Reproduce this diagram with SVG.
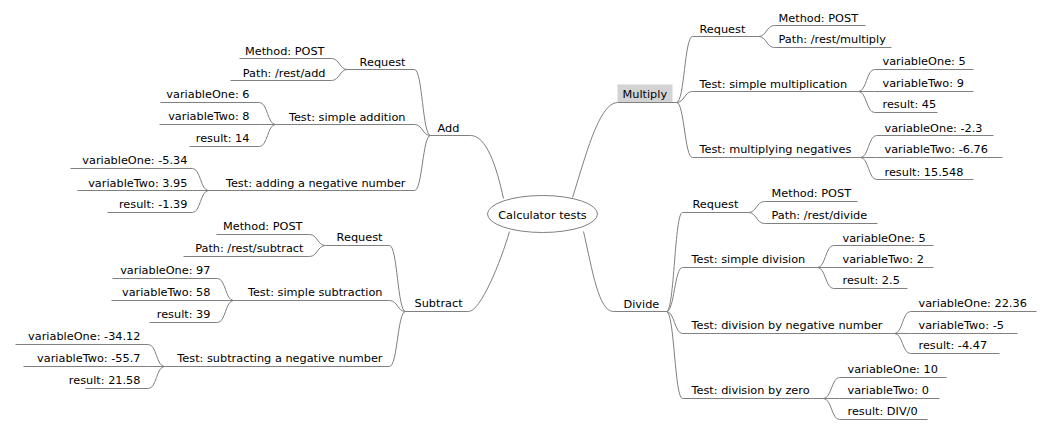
<svg xmlns="http://www.w3.org/2000/svg" width="1058" height="437" viewBox="0 0 1058 437">
<style>
text{font-family:"DejaVu Sans","Liberation Sans",sans-serif;font-size:11.3px;fill:#000}
.e{text-anchor:end}
.m{text-anchor:middle}
line,path,ellipse{stroke:#808080;stroke-width:1;fill:none}
#root ellipse{fill:#fff}
.hl{fill:#d3d3d3;stroke:none}
</style>
<rect width="1058" height="437" fill="#fff"/>
<g transform="translate(0.5,0.5)">
<g id="connectors">
<path d="M470 135 C486 135,496 166,503 198"/>
<path d="M468 311 C480 311,500 262,509 231"/>
<path d="M572 197 C584 160,598 102,617 102"/>
<path d="M583 231 C592 270,598 311,613 311"/>
<path d="M414 69 C422 69,422 135,430 135"/>
<path d="M414 124 C422 124,422 135,430 135"/>
<path d="M414 190 C422 190,422 135,430 135"/>
<path d="M331 58 C339 58,339 69,347 69"/>
<path d="M331 80 C339 80,339 69,347 69"/>
<path d="M259 102 C267 102,267 124,275 124"/>
<path d="M259 124 L275 124"/>
<path d="M259 146 C267 146,267 124,275 124"/>
<path d="M192 168 C200 168,200 190,208 190"/>
<path d="M192 190 L208 190"/>
<path d="M192 212 C200 212,200 190,208 190"/>
<path d="M389 245 C397 245,397 311,405 311"/>
<path d="M389 300 C397 300,397 311,405 311"/>
<path d="M389 366 C397 366,397 311,405 311"/>
<path d="M309 234 C317 234,317 245,325 245"/>
<path d="M309 256 C317 256,317 245,325 245"/>
<path d="M217 278 C225 278,225 300,233 300"/>
<path d="M217 300 L233 300"/>
<path d="M217 322 C225 322,225 300,233 300"/>
<path d="M148 344 C156 344,156 366,164 366"/>
<path d="M148 366 L164 366"/>
<path d="M148 388 C156 388,156 366,164 366"/>
<path d="M676 102 C684 102,684 36,692 36"/>
<path d="M676 102 C684 102,684 91,692 91"/>
<path d="M676 102 C684 102,684 157,692 157"/>
<path d="M758 36 C766 36,766 25,774 25"/>
<path d="M758 36 C766 36,766 47,774 47"/>
<path d="M858 91 C866 91,866 69,874 69"/>
<path d="M858 91 L874 91"/>
<path d="M858 91 C866 91,866 112,874 112"/>
<path d="M860 157 C868 157,868 135,876 135"/>
<path d="M860 157 L876 157"/>
<path d="M860 157 C868 157,868 179,876 179"/>
<path d="M666 311 C674 311,674 212,682 212"/>
<path d="M666 311 C674 311,674 267,682 267"/>
<path d="M666 311 C674 311,674 333,682 333"/>
<path d="M666 311 C674 311,674 398,682 398"/>
<path d="M748 212 C756 212,756 201,764 201"/>
<path d="M748 212 C756 212,756 223,764 223"/>
<path d="M817 267 C825 267,825 245,833 245"/>
<path d="M817 267 L833 267"/>
<path d="M817 267 C825 267,825 288,833 288"/>
<path d="M894 333 C902 333,902 311,910 311"/>
<path d="M894 333 L910 333"/>
<path d="M894 333 C902 333,902 353,910 353"/>
<path d="M823 398 C831 398,831 377,839 377"/>
<path d="M823 398 L839 398"/>
<path d="M823 398 C831 398,831 419,839 419"/>
</g>
<g id="root"><ellipse cx="542" cy="213.5" rx="55" ry="18.5"/><text class="m" x="542" y="218">Calculator tests</text></g>

<g id="add"><line x1="430" y1="135" x2="470" y2="135"/><text x="437" y="131">Add</text></g>
<g id="add-request"><line x1="347" y1="69" x2="414" y2="69"/><text class="e" x="405" y="65">Request</text></g>
<g id="add-method"><line x1="239" y1="58" x2="331" y2="58"/><text class="e" x="324" y="54">Method: POST</text></g>
<g id="add-path"><line x1="230" y1="80" x2="331" y2="80"/><text class="e" x="325" y="76">Path: /rest/add</text></g>
<g id="add-test1"><line x1="275" y1="124" x2="414" y2="124"/><text class="e" x="405" y="120">Test: simple addition</text></g>
<g id="add-t1-v1"><line x1="160" y1="102" x2="259" y2="102"/><text class="e" x="249" y="97">variableOne: 6</text></g>
<g id="add-t1-v2"><line x1="159" y1="124" x2="259" y2="124"/><text class="e" x="249" y="119">variableTwo: 8</text></g>
<g id="add-t1-r"><line x1="189" y1="146" x2="259" y2="146"/><text class="e" x="249" y="141">result: 14</text></g>
<g id="add-test2"><line x1="208" y1="190" x2="414" y2="190"/><text class="e" x="405" y="186">Test: adding a negative number</text></g>
<g id="add-t2-v1"><line x1="70" y1="168" x2="192" y2="168"/><text class="e" x="187" y="163">variableOne: -5.34</text></g>
<g id="add-t2-v2"><line x1="77" y1="190" x2="192" y2="190"/><text class="e" x="187" y="186">variableTwo: 3.95</text></g>
<g id="add-t2-r"><line x1="107" y1="212" x2="192" y2="212"/><text class="e" x="187" y="207">result: -1.39</text></g>

<g id="subtract"><line x1="405" y1="311" x2="468" y2="311"/><text x="414" y="306">Subtract</text></g>
<g id="sub-request"><line x1="325" y1="245" x2="389" y2="245"/><text class="e" x="382" y="240">Request</text></g>
<g id="sub-method"><line x1="216" y1="234" x2="309" y2="234"/><text class="e" x="302" y="229">Method: POST</text></g>
<g id="sub-path"><line x1="183" y1="256" x2="309" y2="256"/><text class="e" x="303" y="251">Path: /rest/subtract</text></g>
<g id="sub-test1"><line x1="233" y1="300" x2="389" y2="300"/><text class="e" x="382" y="295">Test: simple subtraction</text></g>
<g id="sub-t1-v1"><line x1="112" y1="278" x2="217" y2="278"/><text class="e" x="210" y="273">variableOne: 97</text></g>
<g id="sub-t1-v2"><line x1="111" y1="300" x2="217" y2="300"/><text class="e" x="210" y="295">variableTwo: 58</text></g>
<g id="sub-t1-r"><line x1="149" y1="322" x2="217" y2="322"/><text class="e" x="210" y="317">result: 39</text></g>
<g id="sub-test2"><line x1="164" y1="366" x2="389" y2="366"/><text class="e" x="382" y="361">Test: subtracting a negative number</text></g>
<g id="sub-t2-v1"><line x1="15" y1="344" x2="148" y2="344"/><text class="e" x="140" y="339">variableOne: -34.12</text></g>
<g id="sub-t2-v2"><line x1="23" y1="366" x2="148" y2="366"/><text class="e" x="140" y="361">variableTwo: -55.7</text></g>
<g id="sub-t2-r"><line x1="85" y1="388" x2="148" y2="388"/><text class="e" x="140" y="383">result: 21.58</text></g>

<g id="multiply"><rect class="hl" x="617" y="84" width="55" height="18"/><line x1="617" y1="102" x2="676" y2="102"/><text x="622" y="97">Multiply</text></g>
<g id="mul-request"><line x1="692" y1="36" x2="758" y2="36"/><text x="699" y="32">Request</text></g>
<g id="mul-method"><line x1="774" y1="25" x2="865" y2="25"/><text x="778" y="21">Method: POST</text></g>
<g id="mul-path"><line x1="774" y1="47" x2="891" y2="47"/><text x="778" y="42">Path: /rest/multiply</text></g>
<g id="mul-test1"><line x1="692" y1="91" x2="858" y2="91"/><text x="699" y="87">Test: simple multiplication</text></g>
<g id="mul-t1-v1"><line x1="874" y1="69" x2="973" y2="69"/><text x="882" y="64">variableOne: 5</text></g>
<g id="mul-t1-v2"><line x1="874" y1="91" x2="973" y2="91"/><text x="882" y="86">variableTwo: 9</text></g>
<g id="mul-t1-r"><line x1="874" y1="112" x2="937" y2="112"/><text x="882" y="107">result: 45</text></g>
<g id="mul-test2"><line x1="692" y1="157" x2="860" y2="157"/><text x="699" y="152">Test: multiplying negatives</text></g>
<g id="mul-t2-v1"><line x1="876" y1="135" x2="993" y2="135"/><text x="884" y="131">variableOne: -2.3</text></g>
<g id="mul-t2-v2"><line x1="876" y1="157" x2="1002" y2="157"/><text x="884" y="152">variableTwo: -6.76</text></g>
<g id="mul-t2-r"><line x1="876" y1="179" x2="973" y2="179"/><text x="884" y="175">result: 15.548</text></g>

<g id="divide"><line x1="613" y1="311" x2="666" y2="311"/><text x="623" y="307">Divide</text></g>
<g id="div-request"><line x1="682" y1="212" x2="748" y2="212"/><text x="692" y="207">Request</text></g>
<g id="div-method"><line x1="764" y1="201" x2="857" y2="201"/><text x="771" y="196">Method: POST</text></g>
<g id="div-path"><line x1="764" y1="223" x2="877" y2="223"/><text x="771" y="218">Path: /rest/divide</text></g>
<g id="div-test1"><line x1="682" y1="267" x2="817" y2="267"/><text x="691" y="262">Test: simple division</text></g>
<g id="div-t1-v1"><line x1="833" y1="245" x2="933" y2="245"/><text x="842" y="241">variableOne: 5</text></g>
<g id="div-t1-v2"><line x1="833" y1="267" x2="933" y2="267"/><text x="842" y="262">variableTwo: 2</text></g>
<g id="div-t1-r"><line x1="833" y1="288" x2="907" y2="288"/><text x="842" y="283">result: 2.5</text></g>
<g id="div-test2"><line x1="682" y1="333" x2="894" y2="333"/><text x="691" y="328">Test: division by negative number</text></g>
<g id="div-t2-v1"><line x1="910" y1="311" x2="1036" y2="311"/><text x="918" y="306">variableOne: 22.36</text></g>
<g id="div-t2-v2"><line x1="910" y1="333" x2="1017" y2="333"/><text x="918" y="328">variableTwo: -5</text></g>
<g id="div-t2-r"><line x1="910" y1="353" x2="999" y2="353"/><text x="918" y="348">result: -4.47</text></g>
<g id="div-test3"><line x1="682" y1="398" x2="823" y2="398"/><text x="691" y="393">Test: division by zero</text></g>
<g id="div-t3-v1"><line x1="839" y1="377" x2="946" y2="377"/><text x="847" y="372">variableOne: 10</text></g>
<g id="div-t3-v2"><line x1="839" y1="398" x2="939" y2="398"/><text x="847" y="393">variableTwo: 0</text></g>
<g id="div-t3-r"><line x1="839" y1="419" x2="927" y2="419"/><text x="847" y="414">result: DIV/0</text></g>
</g>
</svg>
